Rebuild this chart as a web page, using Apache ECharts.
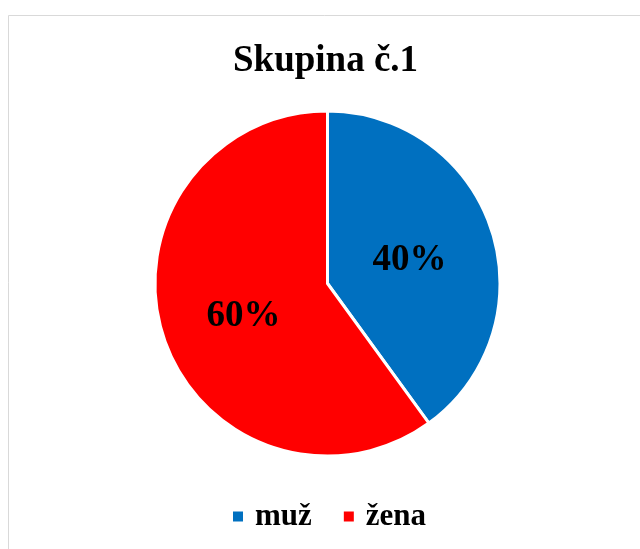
<!DOCTYPE html>
<html>
<head>
<meta charset="utf-8">
<script src="https://cdn.jsdelivr.net/npm/echarts@6/dist/echarts.min.js"></script>
<style>
  html, body { margin: 0; padding: 0; background: #fff; }
  #chart { width: 640px; height: 549px; }
</style>
</head>
<body>
<div id="chart"></div>
<script>
const titleText = 'Skupina č.1';
const categories = ['muž', 'žena'];
const values = [40, 60];
const colors = ['#0070C0', '#FF0000'];

const chart = echarts.init(document.getElementById('chart'), null, { renderer: 'canvas' });
const font = '"Liberation Serif", "Times New Roman", serif';
const labelOffsets = [[-3, 5], [1, 5]];

chart.setOption({
  backgroundColor: '#ffffff',
  animation: false,
  color: colors,
  graphic: [{
    type: 'rect',
    shape: { x: 8.5, y: 15.5, width: 700, height: 600 },
    style: { fill: 'none', stroke: '#d9d9d9', lineWidth: 1 },
    silent: true, z: -10
  }],
  title: {
    text: titleText,
    left: 228,
    top: 38,
    textStyle: { fontFamily: font, fontWeight: 'bold', fontSize: 37, color: '#000' }
  },
  legend: {
    data: categories,
    bottom: 12,
    left: 226,
    icon: 'rect',
    itemWidth: 12,
    itemHeight: 12,
    itemGap: 30,
    textStyle: { fontFamily: font, fontWeight: 'bold', fontSize: 31, color: '#000', padding: [0, 0, 0, 6] }
  },
  series: [{
    type: 'pie',
    center: [327.5, 283.5],
    radius: [0, 172.5],
    startAngle: 90,
    clockwise: true,
    silent: true,
    itemStyle: { borderColor: '#ffffff', borderWidth: 3 },
    label: {
      show: true,
      position: 'inside',
      formatter: function (p) { return Math.round(p.percent) + '%'; },
      fontFamily: font,
      fontWeight: 'bold',
      fontSize: 37,
      color: '#000'
    },
    labelLine: { show: false },
    data: categories.map((c, i) => ({ name: c, value: values[i], label: { offset: labelOffsets[i] } }))
  }]
});
</script>
</body>
</html>
